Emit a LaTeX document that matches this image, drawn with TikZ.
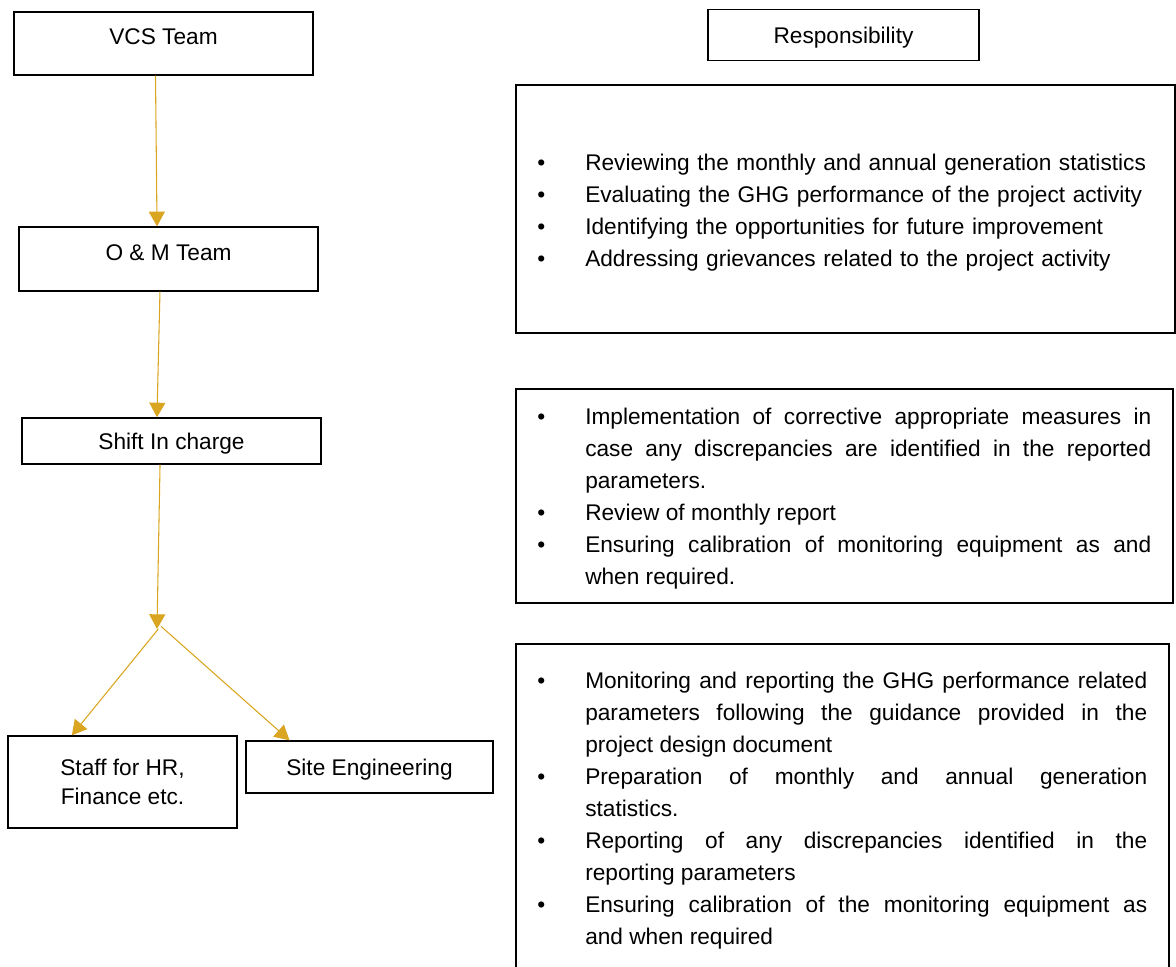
\documentclass[tikz,border=0pt]{standalone}
\usepackage{fontspec}
\setmainfont{Liberation Sans}
\usetikzlibrary{arrows.meta}
\definecolor{gold}{RGB}{218,165,32}
\newcommand\pxu{0.75pt}
\newcommand\itm{\par\noindent\llap{\makebox[36pt][l]{\textbullet}}}
\begin{document}
\begin{tikzpicture}[x=0.75pt,y=-0.75pt,
    every node/.style={font=\fontsize{17}{24}\selectfont},
    box/.style={draw,line width=1pt,inner sep=0pt},
    lst/.style={inner sep=0pt,anchor=west,text width=#1},
    link/.style={gold,line width=0.8pt,-{Triangle[length=11pt,width=12pt]}}]
  \clip (0,0) rectangle (1176,966);
  % left column
  \node[box,minimum width=299*\pxu,minimum height=63*\pxu,text depth=10pt] (vcs) at (163.5,43.5) {VCS Team};
  \node[box,minimum width=299*\pxu,minimum height=64*\pxu,text depth=10pt] (om) at (168.5,259) {O \& M Team};
  \node[box,minimum width=299*\pxu,minimum height=46*\pxu,text depth=0pt] (shift) at (171.5,441) {Shift In charge};
  \node[box,minimum width=229*\pxu,minimum height=92*\pxu,align=center,
        font=\fontsize{17}{22}\selectfont] (staff) at (122.5,782) {Staff for HR,\\Finance etc.};
  \node[box,minimum width=247*\pxu,minimum height=52*\pxu,text depth=0pt] (site) at (369.5,767) {Site Engineering};
  \coordinate (split) at (157,629);
  % arrows
  \draw[link] ([xshift=-6pt]vcs.south) -- ([xshift=-8.6pt]om.north);
  \draw[link] ([xshift=-6.4pt]om.south) -- ([xshift=-10.9pt]shift.north);
  \draw[link] ([xshift=-8.6pt]shift.south) -- (split);
  \draw[link] ([xshift=1pt]split) -- ([xshift=-38pt]staff.north);
  \draw[link] ([xshift=3pt,yshift=2pt]split) -- ([xshift=-60pt]site.north);
  % right column
  \node[box,minimum width=271*\pxu,minimum height=51*\pxu,text depth=0pt] (resp) at (843.5,35) {Responsibility};
  \node[box,minimum width=659*\pxu,minimum height=248*\pxu] (box1) at (845.5,209) {};
  \node[box,minimum width=657*\pxu,minimum height=214*\pxu] (box2) at (844.5,496) {};
  \node[box,minimum width=653*\pxu,minimum height=324*\pxu] (box3) at (842.5,806) {};
  \node[lst=435pt,align=left] (list1) at (585,205) {%
    \itm Reviewing the monthly and annual generation statistics
    \itm Evaluating the GHG performance of the project activity
    \itm Identifying the opportunities for future improvement
    \itm Addressing grievances related to the project activity};
  \node[lst=424.5pt,align=justify] (list2) at (585,491) {%
    \itm Implementation of corrective appropriate measures in\linebreak
    case any discrepancies are identified in the reported\linebreak
    parameters.
    \itm Review of monthly report
    \itm Ensuring calibration of monitoring equipment as and\linebreak
    when required.};
  \node[lst=421.5pt,align=justify] (list3) at (585,802.5) {%
    \itm Monitoring and reporting the GHG performance related\linebreak
    parameters following the guidance provided in the\linebreak
    project design document
    \itm Preparation of monthly and annual generation\linebreak
    statistics.
    \itm Reporting of any discrepancies identified in the\linebreak
    reporting parameters
    \itm Ensuring calibration of the monitoring equipment as\linebreak
    and when required};
\end{tikzpicture}
\end{document}
